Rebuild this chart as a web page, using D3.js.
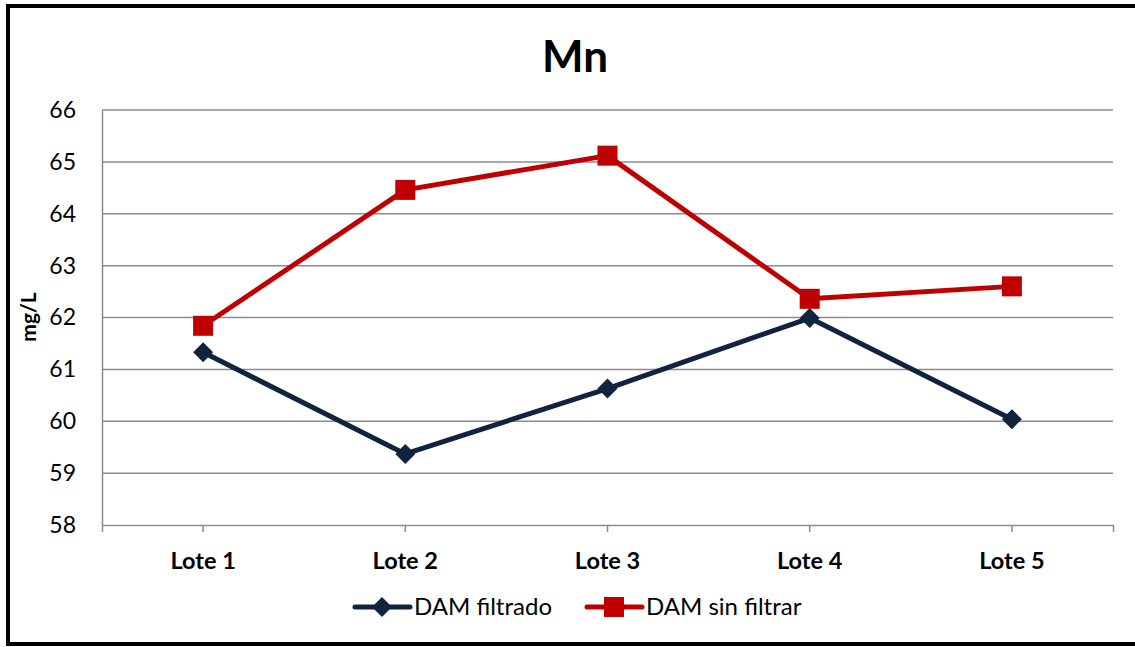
<!DOCTYPE html>
<html>
<head>
<meta charset="utf-8">
<script src="https://cdn.jsdelivr.net/npm/d3@7"></script>
<style>
  body { margin: 0; background: #fff; }
  svg { display: block; font-family: Lato, "Open Sans", sans-serif; }
</style>
</head>
<body>
<svg id="chart" width="1135" height="647"></svg>
<script>
const categories = ["Lote 1", "Lote 2", "Lote 3", "Lote 4", "Lote 5"];
const filtrado = [61.33, 59.37, 60.63, 61.99, 60.04];
const sinFiltrar = [61.84, 64.46, 65.12, 62.36, 62.60];
const yTicks = [58, 59, 60, 61, 62, 63, 64, 65, 66];

const series = [
    { name: "DAM filtrado", values: filtrado, color: "#10243e", marker: "diamond" },
    { name: "DAM sin filtrar", values: sinFiltrar, color: "#c00000", marker: "square" }
];

const margin = { top: 110, right: 22, bottom: 122, left: 102 };
const width = 1135 - margin.left - margin.right;
const height = 647 - margin.top - margin.bottom;

const root = d3.select("#chart");

// outer frame
root.append("rect")
    .attr("x", 8)
    .attr("y", 6)
    .attr("width", 1140)
    .attr("height", 638)
    .attr("fill", "none")
    .attr("stroke", "#000")
    .attr("stroke-width", 4);

root.append("text")
    .attr("x", 575)
    .attr("y", 72)
    .attr("text-anchor", "middle")
    .attr("font-size", 44)
    .attr("font-weight", "bold")
    .text("Mn");

root.append("text")
    .attr("transform", "translate(36,317) rotate(-90)")
    .attr("text-anchor", "middle")
    .attr("font-size", 21)
    .attr("font-weight", "bold")
    .text("mg/L");

const svg = root.append("g")
    .attr("transform", `translate(${margin.left},${margin.top})`);

const x = d3.scaleBand()
    .domain(categories)
    .range([0, width]);

const y = d3.scaleLinear()
    .domain([58, 66])
    .range([height, 0]);

const cx = d => x(d) + x.bandwidth() / 2;

// gridlines
svg.append("g")
    .selectAll("line")
    .data(yTicks.slice(1))
    .join("line")
    .attr("x1", 0)
    .attr("x2", width)
    .attr("y1", d => y(d))
    .attr("y2", d => y(d))
    .attr("stroke", "#8c8c8c")
    .attr("stroke-width", 1.5);

// y axis
const yAxis = svg.append("g")
    .call(d3.axisLeft(y).tickValues(yTicks).tickSize(0).tickPadding(26));
yAxis.select(".domain").attr("stroke", "#8c8c8c").attr("stroke-width", 1.5);
yAxis.selectAll("text").attr("font-size", 23).attr("fill", "#000")
    .style("font-family", "Lato, sans-serif");

// x axis
const xAxis = svg.append("g")
    .attr("transform", `translate(0,${height})`)
    .call(d3.axisBottom(x).tickSize(7).tickSizeOuter(7).tickPadding(20));
xAxis.select(".domain").attr("stroke", "#8c8c8c").attr("stroke-width", 1.5);
xAxis.selectAll(".tick line").attr("stroke", "#8c8c8c").attr("stroke-width", 1.5);
xAxis.selectAll("text").attr("font-size", 23.5).attr("font-weight", "bold").attr("fill", "#000")
    .style("font-family", "Lato, sans-serif");

const line = d3.line()
    .x((d, i) => cx(categories[i]))
    .y(d => y(d));

function drawMarker(g, type, color) {
    if (type === "square") {
        g.append("rect")
            .attr("x", -10).attr("y", -10)
            .attr("width", 20).attr("height", 20)
            .attr("fill", color);
    } else {
        g.append("path")
            .attr("d", "M0,-10L10,0L0,10L-10,0Z")
            .attr("fill", color);
    }
}

series.forEach(s => {
    svg.append("path")
        .datum(s.values)
        .attr("d", line)
        .attr("fill", "none")
        .attr("stroke", s.color)
        .attr("stroke-width", 5)
        .attr("stroke-linejoin", "round");

    s.values.forEach((v, i) => {
        const g = svg.append("g")
            .attr("transform", `translate(${cx(categories[i])},${y(v)})`);
        drawMarker(g, s.marker, s.color);
    });
});

// legend
const legend = root.append("g")
    .attr("transform", "translate(355,607)");

const legendX = [0, 232];
series.forEach((s, i) => {
    const row = legend.append("g")
        .attr("transform", `translate(${legendX[i]},0)`);
    row.append("line")
        .attr("x1", 0).attr("x2", 55)
        .attr("stroke", s.color)
        .attr("stroke-width", 5)
        .attr("stroke-linecap", "round");
    const m = row.append("g").attr("transform", "translate(27,0)");
    drawMarker(m, s.marker, s.color);
    row.append("text")
        .attr("x", 59)
        .attr("y", 8)
        .attr("font-size", 24)
        .text(s.name);
});
</script>
</body>
</html>
